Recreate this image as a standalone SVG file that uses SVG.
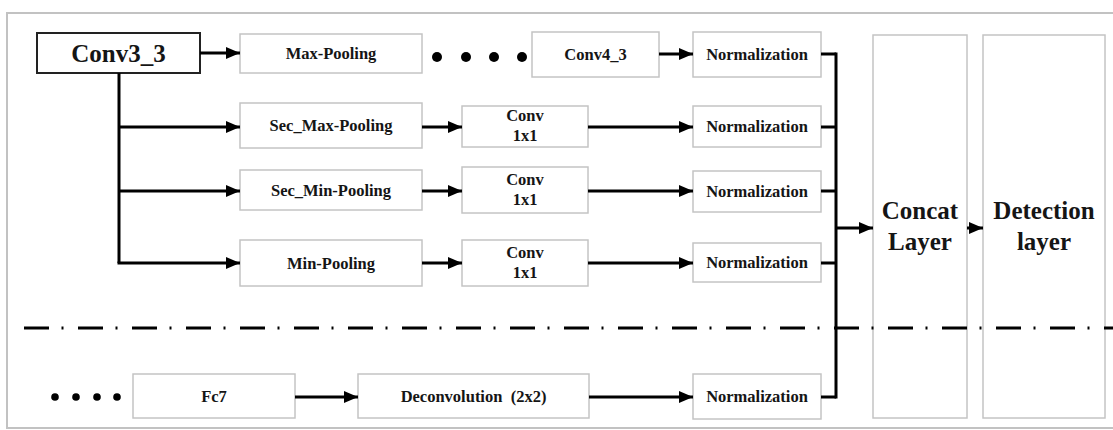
<svg xmlns="http://www.w3.org/2000/svg" width="1113" height="430" viewBox="0 0 1113 430">
<style>
  .box { fill: #fff; stroke: #c4c4c4; stroke-width: 1.5; }
  .main { fill: #fff; stroke: #222; stroke-width: 2; }
  .t { font-family: "Liberation Serif", "Times New Roman", serif; font-weight: bold; font-size: 16.5px; fill: #151515; text-anchor: middle; }
  .big { font-size: 25px; }
  .c { fill: none; stroke: #000; stroke-width: 3; }
  .a { fill: none; stroke: #000; stroke-width: 3; marker-end: url(#arr); }
  .dot { fill: #000; }
</style>
<defs>
  <marker id="arr" markerUnits="userSpaceOnUse" markerWidth="14" markerHeight="12" refX="14" refY="6" orient="auto">
    <path d="M0,0 L14,6 L0,12 z" fill="#000"/>
  </marker>
</defs>
<rect x="0" y="0" width="1113" height="430" fill="#fff"/>
<rect x="7" y="13" width="1120" height="415" fill="#fff" stroke="#c2c2c2" stroke-width="2"/>

<g id="conv3_3"><rect class="main" x="37" y="33" width="163" height="40"/><text class="t big" x="118.5" y="62">Conv3_3</text></g>
<g id="maxpool"><rect class="box" x="240" y="34" width="182" height="39"/><text class="t" x="331" y="59">Max-Pooling</text></g>
<g id="dots-top"><circle class="dot" cx="437" cy="57" r="5"/><circle class="dot" cx="466" cy="57" r="5"/><circle class="dot" cx="494" cy="57" r="5"/><circle class="dot" cx="522" cy="57" r="5"/></g>
<g id="conv4_3"><rect class="box" x="532" y="32" width="127" height="45"/><text class="t" x="595.5" y="60">Conv4_3</text></g>
<g id="norm1"><rect class="box" x="693" y="32" width="128" height="45"/><text class="t" x="757" y="60">Normalization</text></g>

<g id="secmax"><rect class="box" x="240" y="103" width="182" height="45"/><text class="t" x="331" y="131">Sec_Max-Pooling</text></g>
<g id="conv1x1a"><rect class="box" x="462" y="106" width="126" height="41"/><text class="t" x="525" y="121">Conv</text><text class="t" x="525" y="141">1x1</text></g>
<g id="norm2"><rect class="box" x="693" y="106" width="128" height="41"/><text class="t" x="757" y="132">Normalization</text></g>

<g id="secmin"><rect class="box" x="240" y="170" width="182" height="40"/><text class="t" x="331" y="195.5">Sec_Min-Pooling</text></g>
<g id="conv1x1b"><rect class="box" x="462" y="167" width="126" height="46"/><text class="t" x="525" y="185">Conv</text><text class="t" x="525" y="205">1x1</text></g>
<g id="norm3"><rect class="box" x="693" y="171" width="128" height="41"/><text class="t" x="757" y="197">Normalization</text></g>

<g id="minpool"><rect class="box" x="240" y="240" width="182" height="46"/><text class="t" x="331" y="268.5">Min-Pooling</text></g>
<g id="conv1x1c"><rect class="box" x="462" y="240" width="126" height="46"/><text class="t" x="525" y="258">Conv</text><text class="t" x="525" y="278">1x1</text></g>
<g id="norm4"><rect class="box" x="693" y="243" width="128" height="39"/><text class="t" x="757" y="268">Normalization</text></g>

<g id="dots-bottom"><circle class="dot" cx="55" cy="397" r="3.8"/><circle class="dot" cx="76" cy="397" r="3.8"/><circle class="dot" cx="97" cy="397" r="3.8"/><circle class="dot" cx="117" cy="397" r="3.8"/></g>
<g id="fc7"><rect class="box" x="133" y="374" width="162" height="44"/><text class="t" x="214" y="402">Fc7</text></g>
<g id="deconv"><rect class="box" x="358" y="374" width="231" height="44"/><text class="t" x="473.5" y="402" xml:space="preserve">Deconvolution  (2x2)</text></g>
<g id="norm5"><rect class="box" x="693" y="374" width="128" height="45"/><text class="t" x="757" y="402">Normalization</text></g>

<g id="concat"><rect class="box" x="873" y="35" width="94" height="383"/><text class="t big" x="920" y="219">Concat</text><text class="t big" x="920" y="250">Layer</text></g>
<g id="detection"><rect class="box" x="983" y="35" width="122" height="383"/><text class="t big" x="1044" y="219">Detection</text><text class="t big" x="1044" y="250">layer</text></g>

<g id="connectors">
  <line class="a" x1="200" y1="53" x2="240" y2="53"/>
  <path class="c" d="M119,73 V263"/>
  <line class="a" x1="119" y1="127" x2="240" y2="127"/>
  <line class="a" x1="119" y1="191" x2="240" y2="191"/>
  <line class="a" x1="117.5" y1="263" x2="240" y2="263"/>
  <line class="a" x1="659" y1="54" x2="693" y2="54"/>
  <line class="a" x1="422" y1="127" x2="462" y2="127"/>
  <line class="a" x1="422" y1="191" x2="462" y2="191"/>
  <line class="a" x1="422" y1="263" x2="462" y2="263"/>
  <line class="a" x1="588" y1="127" x2="693" y2="127"/>
  <line class="a" x1="588" y1="191" x2="693" y2="191"/>
  <line class="a" x1="588" y1="263" x2="693" y2="263"/>
  <line class="a" x1="295" y1="397" x2="358" y2="397"/>
  <line class="a" x1="589" y1="397" x2="693" y2="397"/>
  <path class="c" d="M821,54 H836 M821,127 H836 M821,191 H836 M821,263 H836 M821,397 H836"/>
  <path class="c" d="M836,52.5 V398.5"/>
  <line class="a" x1="836" y1="228" x2="873" y2="228"/>
  <line class="a" x1="967" y1="228" x2="983" y2="228"/>
</g>
<line id="divider" x1="24" y1="328" x2="1113" y2="328" stroke="#000" stroke-width="3" stroke-dasharray="25 12.5 2 14.5"/>
</svg>
